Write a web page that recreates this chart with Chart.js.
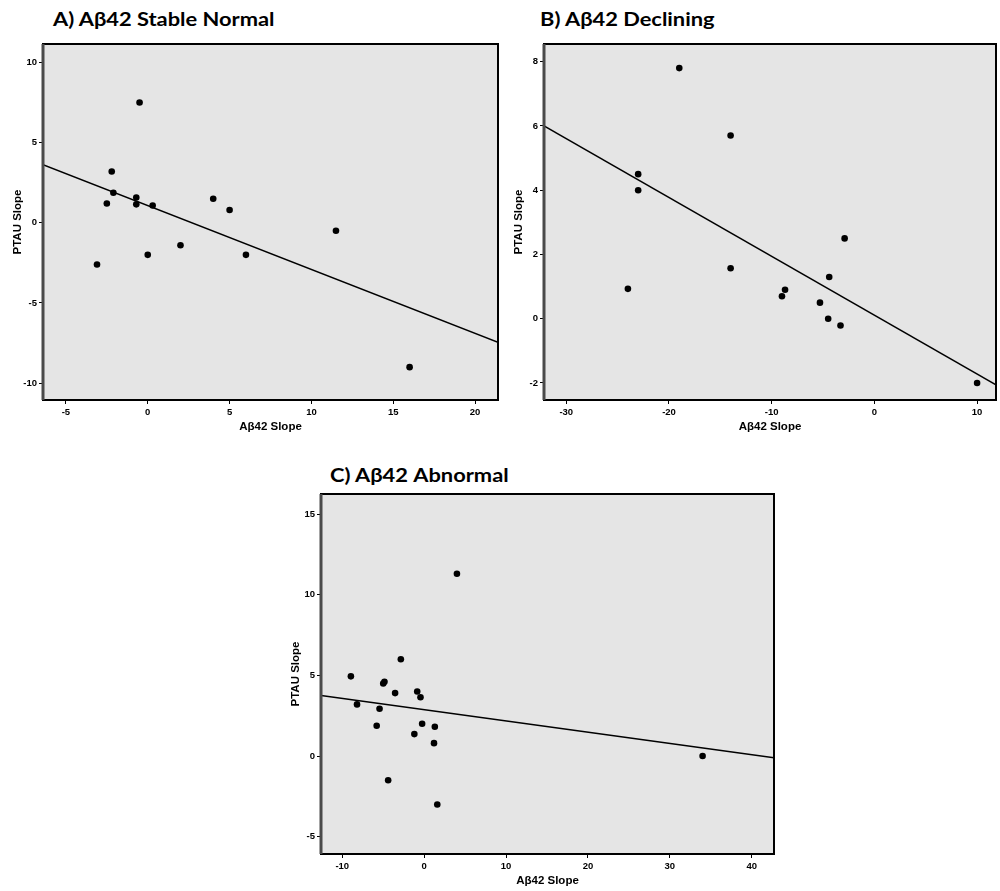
<!DOCTYPE html>
<html lang="en">
<head>
    <meta charset="UTF-8">
    <title>PTAU Slope vs Aβ42 Slope</title>
    <script src="https://cdn.jsdelivr.net/npm/chart.js"></script>
    <style>
        body { margin: 0; background: #fff; width: 1000px; height: 891px; position: relative; overflow: hidden; }
        .title { position: absolute; font-family: Lato, sans-serif; font-weight: bold; font-size: 19px; line-height: 19px; color: #000; white-space: nowrap; transform: scaleX(1.15); transform-origin: left top; }
        canvas { position: absolute; }
    </style>
</head>
<body>
    <div class="title" style="left:53px; top:9px;">A) Aβ42 Stable Normal</div>
    <div class="title" style="left:540px; top:9px;">B) Aβ42 Declining</div>
    <div class="title" style="left:330px; top:465px;">C) Aβ42 Abnormal</div>
    <canvas id="chartA" width="510" height="404" style="left:0; top:30px;"></canvas>
    <canvas id="chartB" width="499" height="404" style="left:501px; top:30px;"></canvas>
    <canvas id="chartC" width="508" height="408" style="left:278px; top:480px;"></canvas>
    <script>
        // A) stable normal
        const xA = [-0.5, -2.2, -2.1, -2.5, -0.7, -0.7, 0.3, -3.1, 0, 2, 4, 5, 6, 11.5, 16];
        const yA = [7.5, 3.2, 1.87, 1.2, 1.58, 1.15, 1.08, -2.6, -2, -1.4, 1.5, 0.8, -2, -0.5, -9];
        const fitXA = [-6.4, 21.4];
        const fitYA = [3.62, -7.45];
        const xRangeA = [-6.4, 21.4], yRangeA = [-11.05, 11.15];

        // B) declining
        const xB = [-19, -14, -23, -23, -24, -14, -9, -8.7, -5.3, -4.4, -4.5, -3.3, -2.9, 10];
        const yB = [7.8, 5.7, 4.5, 4.0, 0.93, 1.57, 0.7, 0.9, 0.5, 1.3, 0, -0.21, 2.5, -2];
        const fitXB = [-32.17, 11.84];
        const fitYB = [6.0, -2.06];
        const xRangeB = [-32.17, 11.84], yRangeB = [-2.53, 8.55];

        // C) abnormal
        const xC = [4, -2.85, -8.95, -4.85, -5, -3.55, -0.85, -0.45, -8.2, -5.45, -5.8, -0.25, 1.3, -1.2, 1.2, -4.4, 1.6, 34];
        const yC = [11.3, 6.0, 4.94, 4.6, 4.5, 3.9, 4.0, 3.64, 3.2, 2.93, 1.88, 2.0, 1.82, 1.36, 0.8, -1.5, -3.0, 0];
        const fitXC = [-12.6, 42.72];
        const fitYC = [3.76, -0.1];
        const xRangeC = [-12.6, 42.72], yRangeC = [-6.07, 16.24];

        const tickFont = { family: '"Liberation Sans", Arial, sans-serif', size: 9.5, weight: 'bold' };
        const titleFont = { family: '"Liberation Sans", Arial, sans-serif', size: 11.5, weight: 'bold' };

        // grey plot background and dark frame
        const frame = {
            id: 'frame',
            beforeDatasetsDraw(chart) {
                const { ctx, chartArea: a } = chart;
                ctx.save();
                ctx.fillStyle = '#e5e5e5';
                ctx.fillRect(a.left, a.top, a.right - a.left, a.bottom - a.top);
                ctx.restore();
            },
            afterDatasetsDraw(chart) {
                const { ctx, chartArea: a } = chart;
                ctx.save();
                ctx.strokeStyle = '#000';
                ctx.lineWidth = 2;
                ctx.strokeRect(a.left, a.top, a.right - a.left, a.bottom - a.top);
                ctx.strokeStyle = '#4a4a4a';
                ctx.lineWidth = 3;
                ctx.beginPath();
                ctx.moveTo(a.left, a.top);
                ctx.lineTo(a.left, a.bottom);
                ctx.stroke();
                ctx.restore();
            }
        };

        function axis(range, step, label, size, isY) {
            return {
                type: 'linear', min: range[0], max: range[1],
                ticks: { stepSize: step, includeBounds: false, color: '#000', font: tickFont, padding: isY ? 2 : 2.5 },
                grid: { drawOnChartArea: false, drawTicks: true, tickLength: 4, color: '#000' },
                border: { display: false },
                title: { display: true, text: label, color: '#000', font: titleFont, padding: isY ? { top: 11, bottom: 0 } : { top: 0, bottom: 0 } },
                afterFit: s => { if (isY) s.width = size; else s.height = size; }
            };
        }

        function makeChart(id, xs, ys, fitX, fitY, xRange, yRange, xStep, yStep, padRight) {
            const pts = xs.map((x, i) => ({ x: x, y: ys[i] }));
            const fit = fitX.map((x, i) => ({ x: x, y: fitY[i] }));
            new Chart(document.getElementById(id), {
                type: 'scatter',
                data: { datasets: [
                    { data: pts, backgroundColor: '#000', borderColor: '#000', pointRadius: 3.3, borderWidth: 0 },
                    { data: fit, showLine: true, borderColor: '#000', borderWidth: 1.5, pointRadius: 0, fill: false }
                ] },
                options: {
                    responsive: false, animation: false,
                    layout: { padding: { top: 14, right: padRight, left: 0, bottom: 0 } },
                    plugins: { legend: { display: false }, tooltip: { enabled: false } },
                    scales: {
                        x: axis(xRange, xStep, 'Aβ42 Slope', 34, false),
                        y: axis(yRange, yStep, 'PTAU Slope', 43, true)
                    }
                },
                plugins: [frame]
            });
        }

        makeChart('chartA', xA, yA, fitXA, fitYA, xRangeA, yRangeA, 5, 5, 12);
        makeChart('chartB', xB, yB, fitXB, fitYB, xRangeB, yRangeB, 10, 2, 1);
        makeChart('chartC', xC, yC, fitXC, fitYC, xRangeC, yRangeC, 10, 5, 12);
    </script>
</body>
</html>
